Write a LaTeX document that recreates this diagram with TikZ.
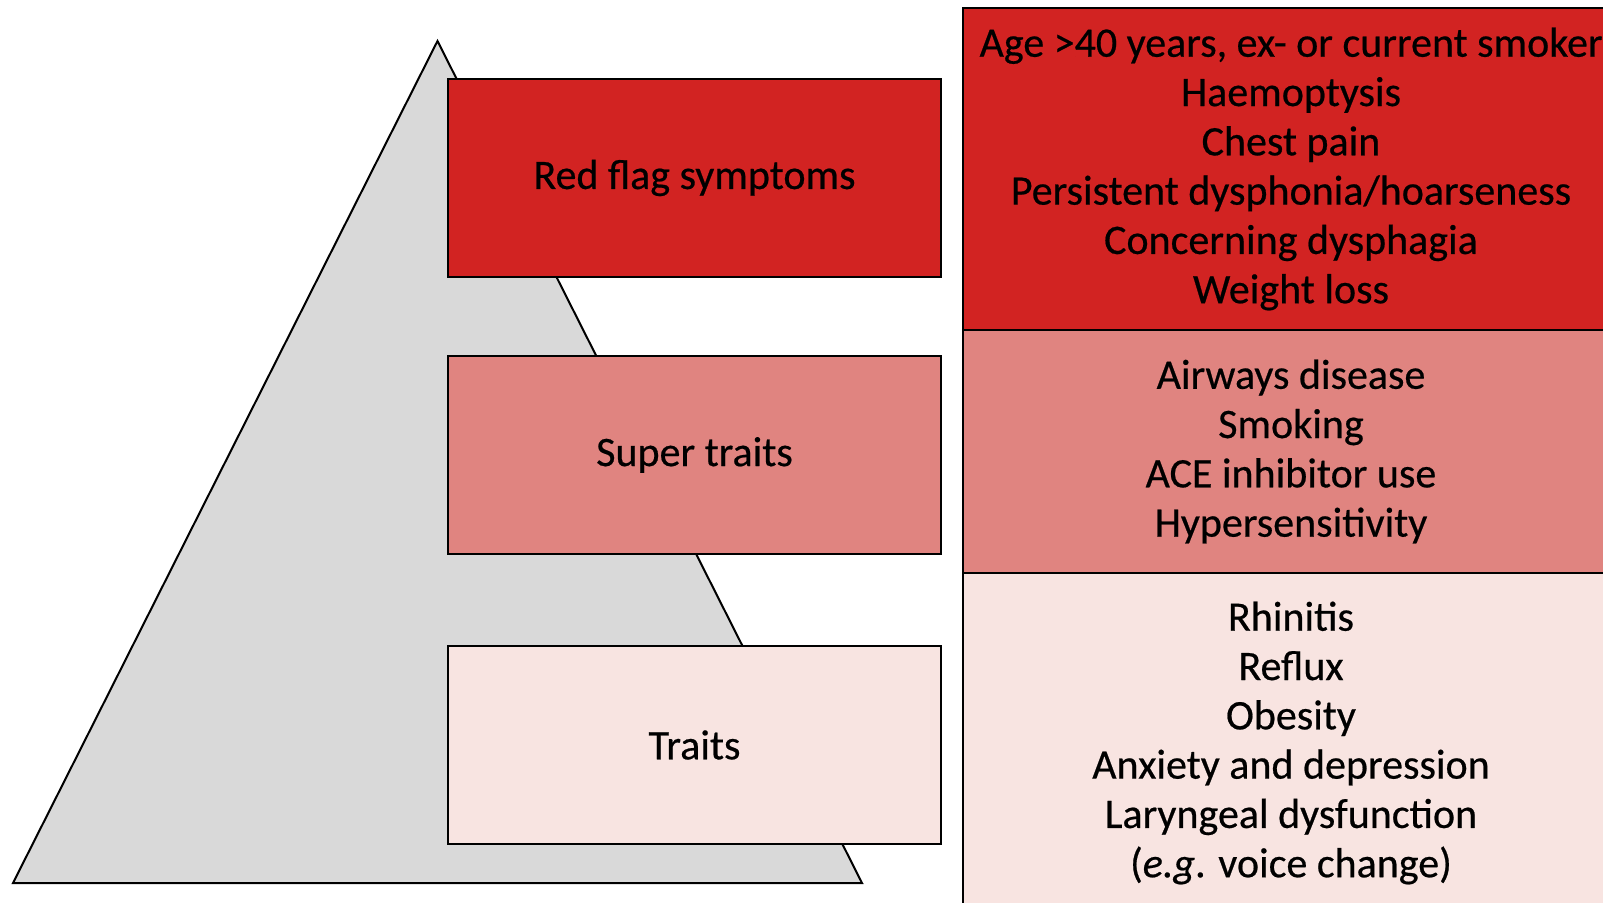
\documentclass[tikz,border=0pt]{standalone}
\usepackage{fontspec}
\setmainfont[FakeBold=0.5]{Carlito}
\definecolor{redflag}{RGB}{210,35,34}
\definecolor{superred}{RGB}{224,132,128}
\definecolor{traitpink}{RGB}{248,228,225}
\definecolor{pyrgrey}{RGB}{217,217,217}
\begin{document}
\begin{tikzpicture}[x=1pt,y=-1pt,
  outline/.style={draw=black,line width=2pt},
  bodytext/.style={font=\fontsize{42}{49.3}\selectfont},
  tier/.style={outline,bodytext,minimum width=493pt,minimum height=198pt,
    anchor=north west,inner sep=0pt},
  panel/.style={outline,bodytext,minimum width=656pt,anchor=north west,
    inner sep=0pt,align=center}]
\clip (0,0) rectangle (1603,902);
\fill[white] (0,0) rectangle (1603,902);

% pyramid behind the tier labels
\draw[outline,fill=pyrgrey,line join=miter] (437.5,41) -- (862,883) -- (13,883) -- cycle;

% tier labels
\node[tier,fill=redflag] (red) at (447,78) {Red flag symptoms};
\node[tier,fill=superred] (super) at (447,355) {Super traits};
\node[tier,fill=traitpink] (traits) at (447,645) {Traits};

% lists of features for each tier
\node[panel,fill=redflag,minimum height=322pt] (redlist) at (962,7)
  {Age >40 years, ex- or current smoker\\Haemoptysis\\Chest pain\\
   Persistent dysphonia/hoarseness\\Concerning dysphagia\\Weight loss};
\node[panel,fill=superred,minimum height=243pt] (superlist) at (962,329)
  {Airways disease\\Smoking\\ACE inhibitor use\\Hypersensitivity};
\node[panel,fill=traitpink,minimum height=340pt] (traitlist) at (962,572)
  {Rhinitis\\Reflux\\Obesity\\Anxiety and depression\\Laryngeal dysfunction\\
   (\textit{e.g}. voice change)};
\end{tikzpicture}
\end{document}
